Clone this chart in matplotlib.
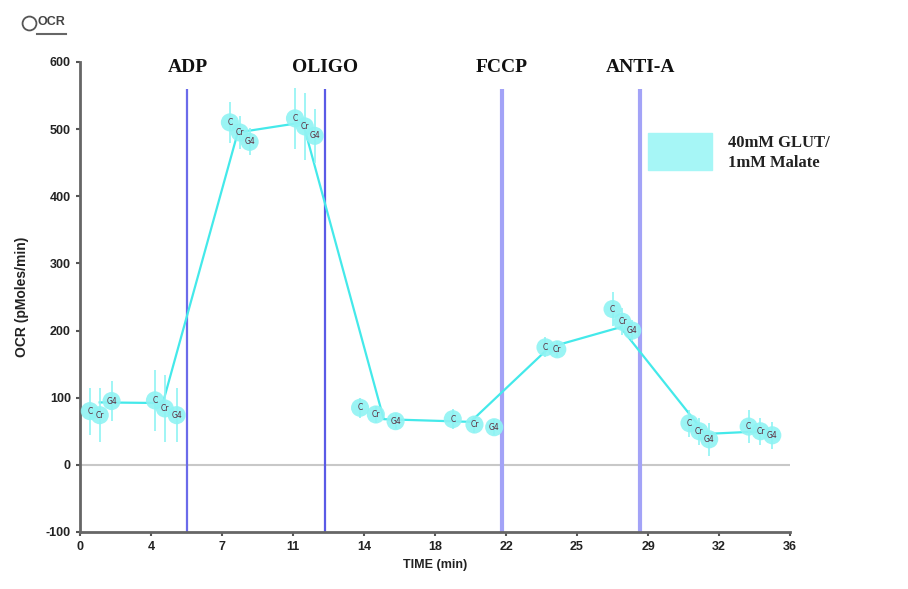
import matplotlib.pyplot as plt
import numpy as np

plt.rcParams["axes.unicode_minus"] = False

# mean trace
time_mean = [1.0, 4.2, 8.0, 11.3, 15.4, 19.8, 23.8, 27.4, 31.7, 34.6]
ocr_mean = [93, 92, 495, 510, 68, 64, 175, 205, 46, 50]

# individual wells per measurement (time, ocr, error)
wells_t = [[0.5, 1.0, 1.6], [3.8, 4.3, 4.9], [7.6, 8.1, 8.6], [10.9, 11.4, 11.9],
           [14.2, 15.0, 16.0], [18.9, 20.0, 21.0], [23.6, 24.2], [27.0, 27.5, 28.0],
           [30.9, 31.4, 31.9], [33.9, 34.5, 35.1]]
wells_y = [[80, 74, 95], [96, 84, 74], [510, 495, 481], [516, 504, 490],
           [85, 75, 65], [68, 60, 56], [175, 172], [232, 213, 200],
           [62, 50, 38], [57, 50, 44]]
wells_err = [[35, 40, 30], [45, 50, 40], [30, 25, 20], [45, 50, 40],
             [15, 12, 12], [15, 12, 12], [15, 12], [25, 20, 15],
             [20, 20, 25], [25, 20, 20]]
well_names = ["C", "Cr", "G4"]

drugs = ["ADP", "OLIGO", "FCCP", "ANTI-A"]
drug_t = [5.45, 12.4, 21.4, 28.4]
drug_colors = ["#6b6bea", "#5a5ae6", "#a3a3f7", "#a3a3f7"]
drug_width = [1.6, 1.6, 3.0, 3.0]

xticks = np.linspace(0, 36, 11)
xtick_labels = ["0", "4", "7", "11", "14", "18", "22", "25", "29", "32", "36"]
yticks = [-100, 0, 100, 200, 300, 400, 500, 600]

cyan = "#44e9ea"
light = "#8ff3f3"

fig = plt.figure(figsize=(9.08, 5.89), dpi=100)
ax = fig.add_axes([0.0881, 0.0968, 0.782, 0.798])

ax.axhline(0, color="#c8c8c8", lw=1.5, zorder=1)

for x, c, w in zip(drug_t, drug_colors, drug_width):
    ax.vlines(x, -100, 560, color=c, lw=w, zorder=2)
for name, x in zip(drugs, drug_t):
    ax.text(x, 592, name, ha="center", va="center", fontsize=14,
            fontweight="bold", family="Liberation Serif", color="#111111")

ax.plot(time_mean, ocr_mean, color=cyan, lw=1.6, zorder=3)

for ts, ys, es in zip(wells_t, wells_y, wells_err):
    ax.errorbar(ts, ys, yerr=es, fmt="none", ecolor=light, elinewidth=1.2,
                capsize=0, zorder=3)
    ax.scatter(ts, ys, s=170, color=light, edgecolors="none", alpha=0.9, zorder=4)
    for i, (t, y) in enumerate(zip(ts, ys)):
        ax.text(t, y, well_names[i % 3], fontsize=5.5, ha="center", va="center",
                color="#5b2a3c", zorder=5)

ax.set_xlim(0, 36)
ax.set_ylim(-100, 600)
ax.set_xticks(xticks)
ax.set_xticklabels(xtick_labels)
ax.set_yticks(yticks)
ax.tick_params(labelsize=9, color="#555555", length=3, width=1.5, labelcolor="#222222")
for lab in ax.get_xticklabels() + ax.get_yticklabels():
    lab.set_fontweight("bold")
    lab.set_family("Liberation Sans")

for s in ["top", "right"]:
    ax.spines[s].set_visible(False)
for s in ["left", "bottom"]:
    ax.spines[s].set_color("#666666")
    ax.spines[s].set_linewidth(2)

ax.set_ylabel("OCR (pMoles/min)", fontsize=10, fontweight="bold", family="Liberation Sans",
              color="#222222", labelpad=12)
ax.set_xlabel("TIME (min)", fontsize=9, fontweight="bold", family="Liberation Sans",
              color="#222222", labelpad=4)

# legend box
fig.patches.append(plt.Rectangle((648 / 908, 1 - 170 / 589), 64 / 908, 37 / 589,
                                 transform=fig.transFigure, color="#a6f6f6"))
fig.text(728 / 908, 1 - 153 / 589, "40mM GLUT/\n1mM Malate", fontsize=12,
         fontweight="bold", family="Liberation Serif", va="center", ha="left",
         color="#222222", linespacing=1.3)

# panel header
fig.lines.append(plt.Line2D([29 / 908], [1 - 23 / 589], marker="o", markersize=10,
                            markerfacecolor="none", markeredgecolor="#555555",
                            markeredgewidth=1.3, transform=fig.transFigure))
fig.text(37 / 908, 1 - 22 / 589, "OCR", fontsize=9, fontweight="bold", va="center",
         family="Liberation Sans", color="#444444")
fig.lines.append(plt.Line2D([37 / 908, 66 / 908], [1 - 34 / 589, 1 - 34 / 589],
                            transform=fig.transFigure, color="#666666", lw=1.5))

fig.savefig("out.png", dpi=100)
